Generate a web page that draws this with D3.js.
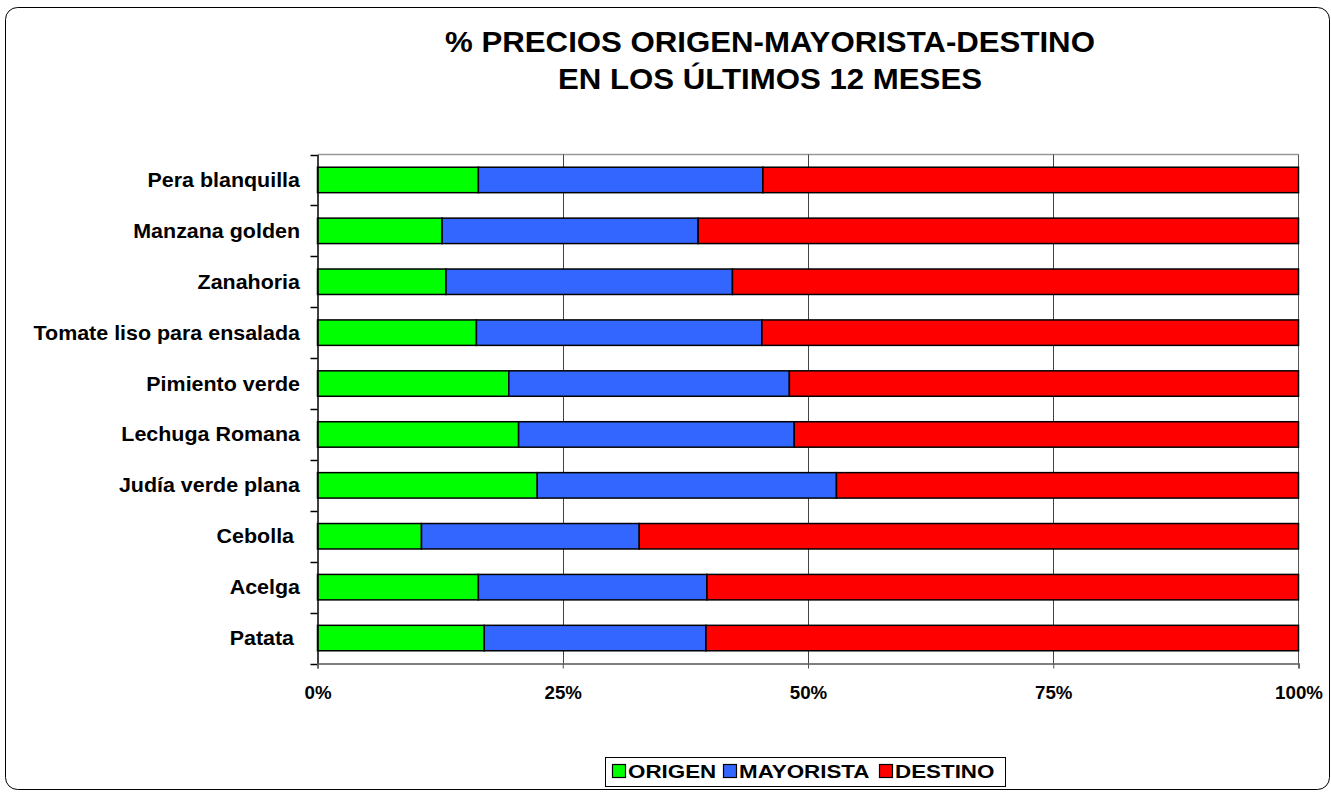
<!DOCTYPE html>
<html>
<head>
<meta charset="utf-8">
<script src="https://cdn.jsdelivr.net/npm/d3@7"></script>
<style>
  html, body { margin: 0; padding: 0; background: #fff; }
  svg { display: block; font-family: "Liberation Sans", Arial, sans-serif; }
</style>
</head>
<body>
<svg id="chart" width="1331" height="793"></svg>
<script>
// Products, top to bottom (trailing spaces kept as written in the source sheet)
const categories = [
  "Pera blanquilla", "Manzana golden", "Zanahoria", "Tomate liso para ensalada",
  "Pimiento verde", "Lechuga Romana", "Judía verde plana", "Cebolla ", "Acelga", "Patata "
];
// Share of final price at each stage (%)
const origen     = [16.4, 12.7, 13.1, 16.2, 19.5, 20.5, 22.4, 10.6, 16.4, 17.0];
const mayorista  = [29.0, 26.1, 29.2, 29.1, 28.6, 28.1, 30.5, 22.2, 23.3, 22.6];
const destino    = [54.6, 61.2, 57.7, 54.7, 51.9, 51.4, 47.1, 67.2, 60.3, 60.4];
const seriesNames = ["ORIGEN", "MAYORISTA", "DESTINO"];
const seriesColors = ["#00FF00", "#3366FF", "#FF0000"];
const tickValues = [0, 25, 50, 75, 100];
const titleLines = ["% PRECIOS ORIGEN-MAYORISTA-DESTINO", "EN LOS ÚLTIMOS 12 MESES"];

const FONT = "'Liberation Sans', Arial, sans-serif";
const svg = d3.select("#chart");

// Outer rounded frame
svg.append("rect")
  .attr("x", 5.5).attr("y", 7.5).attr("width", 1324).attr("height", 782)
  .attr("rx", 12).attr("ry", 12)
  .attr("fill", "#fff").attr("stroke", "#000").attr("stroke-width", 1);

// Title (slightly widened lettering)
svg.append("g").selectAll("text").data(titleLines).join("text")
  .attr("transform", (d, i) => `translate(770,${52 + i * 37}) scale(1.04,1)`)
  .attr("text-anchor", "middle")
  .attr("font-size", 30).attr("font-weight", "bold")
  .text(d => d);

const plot = { left: 317.5, right: 1298.5, top: 154.5, bottom: 663.5 };

const x = d3.scaleLinear().domain([0, 100]).range([plot.left, plot.right]);
const y = d3.scaleBand().domain(categories).range([plot.top, plot.bottom]).paddingInner(0.5).paddingOuter(0.25);
const yBand = d3.scaleBand().domain(categories).range([plot.top, plot.bottom]);

// Plot frame top and right edges
svg.append("line")
  .attr("x1", plot.left).attr("x2", plot.right)
  .attr("y1", plot.top).attr("y2", plot.top)
  .attr("stroke", "#999").attr("stroke-width", 1.5);
svg.append("line")
  .attr("x1", plot.right).attr("x2", plot.right)
  .attr("y1", plot.top).attr("y2", plot.bottom)
  .attr("stroke", "#555").attr("stroke-width", 1);

// Vertical gridlines
svg.append("g").selectAll("line").data(tickValues.slice(1, -1)).join("line")
  .attr("x1", d => Math.round(x(d)) + 0.5).attr("x2", d => Math.round(x(d)) + 0.5)
  .attr("y1", plot.top).attr("y2", plot.bottom)
  .attr("stroke", "#444").attr("stroke-width", 1);

// Stacked bars
const rows = categories.map((c, i) => ({ cat: c, ORIGEN: origen[i], MAYORISTA: mayorista[i], DESTINO: destino[i] }));
const stacked = d3.stack().keys(seriesNames)(rows);

svg.append("g").selectAll("g").data(stacked).join("g")
  .attr("fill", (d, i) => seriesColors[i])
  .selectAll("rect").data(d => d).join("rect")
  .attr("x", d => x(d[0]))
  .attr("y", d => y(d.data.cat))
  .attr("width", d => x(d[1]) - x(d[0]))
  .attr("height", y.bandwidth())
  .attr("stroke", "#000").attr("stroke-width", 1.5);

// Y axis with widened category labels
const ySx = 1.1;
const yAxis = svg.append("g")
  .attr("transform", `translate(${plot.left},0)`)
  .call(d3.axisLeft(yBand).tickSize(0).tickPadding(0));
yAxis.select(".domain").attr("stroke", "#000").attr("stroke-width", 1.5);
yAxis.selectAll(".tick text")
  .attr("x", -17.5 / ySx).attr("dy", "0.36em")
  .attr("transform", `scale(${ySx},1)`)
  .attr("font-size", 19.5).attr("font-weight", "bold").attr("fill", "#000")
  .attr("font-family", FONT)
  .style("white-space", "pre");
// band separator ticks on the category axis
svg.append("g").selectAll("line")
  .data(categories.map(c => yBand(c)).concat([plot.bottom]))
  .join("line")
  .attr("x1", plot.left - 7).attr("x2", plot.left)
  .attr("y1", d => Math.round(d) + 0.5).attr("y2", d => Math.round(d) + 0.5)
  .attr("stroke", "#000").attr("stroke-width", 1.5);

// X axis
const xAxis = svg.append("g")
  .attr("transform", `translate(0,${plot.bottom})`)
  .call(d3.axisBottom(x).tickValues(tickValues).tickFormat(d => d + "%").tickSize(5).tickPadding(0));
xAxis.select(".domain").attr("stroke", "#555").attr("stroke-width", 1.5);
xAxis.selectAll(".tick line").attr("stroke", "#555");
xAxis.selectAll(".tick text")
  .attr("y", 36).attr("dy", 0)
  .attr("transform", "scale(1.07,1)")
  .attr("font-size", 17.5).attr("font-weight", "bold").attr("fill", "#000")
  .attr("font-family", FONT);

// Legend
const legend = svg.append("g");
legend.append("rect")
  .attr("x", 605.5).attr("y", 757.5).attr("width", 400).attr("height", 29)
  .attr("fill", "#fff").attr("stroke", "#000").attr("stroke-width", 1);
const legendX = [612, 723, 879];
const items = legend.selectAll("g.item").data(seriesNames).join("g").attr("class", "item")
  .attr("transform", (d, i) => `translate(${legendX[i]},0)`);
items.append("rect")
  .attr("x", 0.5).attr("y", 764.5).attr("width", 13).attr("height", 13)
  .attr("fill", (d, i) => seriesColors[i]).attr("stroke", "#000").attr("stroke-width", 1.2);
items.append("text")
  .attr("transform", "translate(16,777.5) scale(1.21,1)")
  .attr("font-size", 18.5).attr("font-weight", "bold")
  .text(d => d);
</script>
</body>
</html>
